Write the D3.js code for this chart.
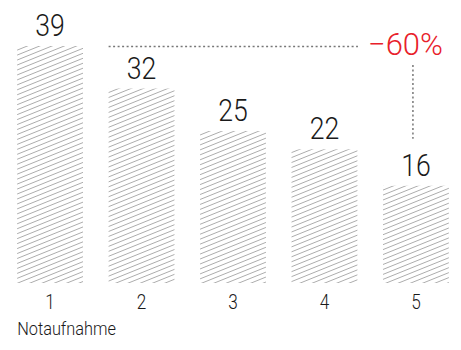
<!DOCTYPE html>
<html>
<head>
<meta charset="utf-8">
<script src="https://cdn.jsdelivr.net/npm/d3@7"></script>
<style>
  body { margin: 0; background: #fff; }
  text { font-family: Roboto, "Liberation Sans", Arial, sans-serif; font-weight: 300; }
</style>
</head>
<body>
<div id="chart"></div>
<script>
// data
var categories = ["1", "2", "3", "4", "5"];
var values = [39, 32, 25, 22, 16];
var changeLabel = "\u221260%";
var axisTitle = "Notaufnahme";

var width = 461, height = 350;
const margin = {top: 46, right: 3, bottom: 66, left: 8};
const squeeze = 0.86; // condensed look

var svg = d3.select("#chart")
     .append("svg")
     .attr("width", width)
     .attr("height", height);

// hatch pattern
svg.append("defs")
     .append("pattern")
     .attr("id", "hatch")
     .attr("patternUnits", "userSpaceOnUse")
     .attr("width", 10)
     .attr("height", 4.6)
     .attr("patternTransform", "rotate(-22)")
     .append("line")
     .attr("x1", 0).attr("x2", 10)
     .attr("y1", 2.3).attr("y2", 2.3)
     .attr("stroke", "#a6a6a6")
     .attr("stroke-width", 0.9);

var x = d3.scaleBand()
     .domain(categories)
     .range([margin.left, width - margin.right])
     .paddingInner(0.28)
     .paddingOuter(0.1);

var y = d3.scaleLinear()
     .domain([0, d3.max(values)])
     .range([height - margin.bottom - 1, margin.top]);

var data = categories.map(function(c, i) { return {cat: c, val: values[i]}; });

function place(px, py, s) {
     return "translate(" + px + "," + py + ") scale(" + (s || squeeze) + ",1)";
}

// bars
svg.selectAll(".bar")
     .data(data)
     .enter()
     .append("rect")
     .attr("class", "bar")
     .attr("x", function(d) { return x(d.cat); })
     .attr("y", function(d) { return y(d.val); })
     .attr("width", x.bandwidth())
     .attr("height", function(d) { return y(0) - y(d.val); })
     .attr("fill", "url(#hatch)");

// value labels
svg.selectAll(".val")
     .data(data)
     .enter()
     .append("text")
     .attr("class", "val")
     .attr("transform", function(d) { return place(x(d.cat) + x.bandwidth() / 2, y(d.val) - 10); })
     .attr("text-anchor", "middle")
     .attr("font-size", 31)
     .attr("fill", "#1a1a1a")
     .text(function(d) { return d.val; });

// x axis labels
svg.selectAll(".tick-label")
     .data(categories)
     .enter()
     .append("text")
     .attr("class", "tick-label")
     .attr("transform", function(d) { return place(x(d) + x.bandwidth() / 2, 309); })
     .attr("text-anchor", "middle")
     .attr("font-size", 20)
     .attr("fill", "#1a1a1a")
     .text(function(d) { return d; });

svg.append("text")
     .attr("transform", place(x(categories[0]), 335))
     .attr("font-size", 19)
     .attr("fill", "#1a1a1a")
     .text(axisTitle);

// change annotation
var first = data[0], last = data[data.length - 1];
var lastCx = x(last.cat) + x.bandwidth() / 2;

svg.append("line")
     .attr("x1", x(categories[1]))
     .attr("x2", lastCx - 58)
     .attr("y1", y(first.val) + 0.5)
     .attr("y2", y(first.val) + 0.5)
     .attr("stroke", "#777")
     .attr("stroke-width", 1.5)
     .attr("stroke-dasharray", "2,2.5");

svg.append("text")
     .attr("transform", place(443, y(first.val) + 9, 1))
     .attr("text-anchor", "end")
     .attr("font-size", 31)
     .attr("fill", "#e8202a")
     .text(changeLabel);

svg.append("line")
     .attr("x1", lastCx - 3)
     .attr("x2", lastCx - 3)
     .attr("y1", 65)
     .attr("y2", y(last.val) - 47)
     .attr("stroke", "#777")
     .attr("stroke-width", 1.5)
     .attr("stroke-dasharray", "2,2.5");
</script>
</body>
</html>
